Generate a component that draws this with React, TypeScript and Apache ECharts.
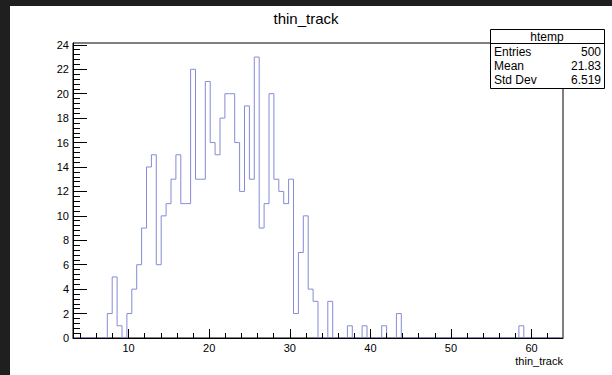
import React, { useEffect, useRef } from "react";
import * as echarts from "echarts";

const chartTitle = "thin_track";
const axisTitle = "thin_track";
const xMin = 3.1;
const xMax = 63.9;
const yMax = 24.15;
const counts = [
  0, 0, 0, 0, 0, 0, 0, 2, 5, 1,
  0, 2, 4, 6, 9, 14, 15, 6, 10, 11,
  13, 15, 11, 11, 22, 13, 13, 21, 16, 15,
  18, 20, 20, 16, 12, 19, 13, 23, 9, 11,
  20, 13, 12, 11, 13, 2, 7, 10, 4, 3,
  0, 0, 3, 0, 0, 0, 1, 0, 0, 1,
  0, 0, 0, 1, 0, 0, 2, 0, 0, 0,
  0, 0, 0, 0, 0, 0, 0, 0, 0, 0,
  0, 0, 0, 0, 0, 0, 0, 0, 0, 0,
  0, 1, 0, 0, 0, 0, 0, 0, 0, 0,
];
const xMajorTicks = [10, 20, 30, 40, 50, 60];
const yMajorTicks = [0, 2, 4, 6, 8, 10, 12, 14, 16, 18, 20, 22, 24];
const statsName = "htemp";
const statsLabels = ["Entries", "Mean", "Std Dev"];
const statsValues = ["500", "21.83", "6.519"];

const FONT = "'Liberation Sans', Arial, Helvetica, sans-serif";

export default function App() {
  const ref = useRef<HTMLDivElement>(null);
  useEffect(() => {
    const chart = echarts.init(ref.current!, null, { renderer: "svg" });
    const nBins = counts.length;
    const bw = (xMax - xMin) / nBins;
    const pts: number[][] = [];
    counts.forEach((c, k) => {
      pts.push([xMin + k * bw, c]);
      pts.push([xMin + (k + 1) * bw, c]);
    });
    const xMinor: number[] = [];
    for (let v = 4; v < xMax; v += 2) if (v % 10 !== 0) xMinor.push(v);
    const yMinor: number[] = [];
    for (let i = 1; i * 0.4 < yMax; i++) if (i % 5 !== 0) yMinor.push(+(i * 0.4).toFixed(2));

    const boxX = 490, boxY = 29, boxW = 114, rowH = 14;
    const statsGraphics: any[] = [
      { type: "rect", shape: { x: boxX + 0.5, y: boxY + 0.5, width: boxW, height: 14 + rowH * 3 + 3 }, style: { fill: "#fff", stroke: "#000", lineWidth: 1 } },
      { type: "line", shape: { x1: boxX + 0.5, y1: boxY + 14.5, x2: boxX + boxW + 0.5, y2: boxY + 14.5 }, style: { stroke: "#000", lineWidth: 1 } },
      { type: "text", x: boxX + boxW / 2, y: boxY + 7.5, style: { text: statsName, align: "center", verticalAlign: "middle", font: `12px ${FONT}`, fill: "#000" } },
    ];
    statsLabels.forEach((lab, i) => {
      const cy = boxY + 22.5 + i * rowH;
      statsGraphics.push({ type: "text", x: boxX + 4, y: cy, style: { text: lab, align: "left", verticalAlign: "middle", font: `12px ${FONT}`, fill: "#000" } });
      statsGraphics.push({ type: "text", x: boxX + boxW - 3, y: cy, style: { text: statsValues[i], align: "right", verticalAlign: "middle", font: `12px ${FONT}`, fill: "#000" } });
    });

    chart.setOption({
      animation: false,
      backgroundColor: "#fff",
      grid: { left: 73, top: 43, width: 490, height: 295, show: true, borderColor: "#000", borderWidth: 1, backgroundColor: "transparent" },
      xAxis: [
        {
          type: "value", min: xMin, max: xMax, z: 5,
          axisLine: { show: true, onZero: false, lineStyle: { color: "#000", width: 1 } },
          axisTick: { show: true, inside: true, length: 9, customValues: xMajorTicks, lineStyle: { color: "#000", width: 1 } },
          axisLabel: { show: true, customValues: xMajorTicks, margin: 4, color: "#000", fontSize: 11, fontFamily: FONT },
          splitLine: { show: false },
        },
        {
          type: "value", min: xMin, max: xMax, position: "bottom", z: 5,
          axisLine: { show: false },
          axisTick: { show: true, inside: true, length: 5, customValues: xMinor, lineStyle: { color: "#000", width: 1 } },
          axisLabel: { show: false },
          splitLine: { show: false },
        },
      ],
      yAxis: [
        {
          type: "value", min: 0, max: yMax, z: 5,
          axisLine: { show: true, onZero: false, lineStyle: { color: "#000", width: 1 } },
          axisTick: { show: true, inside: true, length: 14, customValues: yMajorTicks, lineStyle: { color: "#000", width: 1 } },
          axisLabel: { show: true, customValues: yMajorTicks, margin: 4, color: "#000", fontSize: 11, fontFamily: FONT },
          splitLine: { show: false },
        },
        {
          type: "value", min: 0, max: yMax, position: "left", z: 5,
          axisLine: { show: false },
          axisTick: { show: true, inside: true, length: 7, customValues: yMinor, lineStyle: { color: "#000", width: 1 } },
          axisLabel: { show: false },
          splitLine: { show: false },
        },
      ],
      series: [
        {
          type: "line", xAxisIndex: 0, yAxisIndex: 0, data: pts, symbol: "none", z: 2,
          lineStyle: { color: "#858bd6", width: 1 }, clip: true,
        },
      ],
      graphic: [
        { type: "rect", z: 20, shape: { x: 0, y: 0, width: 612, height: 6 }, style: { fill: "#1f1f1f" } },
        { type: "rect", z: 20, shape: { x: 0, y: 0, width: 10, height: 375 }, style: { fill: "#1f1f1f" } },
        { type: "text", z: 20, x: 306, y: 18, style: { text: chartTitle, align: "center", verticalAlign: "middle", font: `15px ${FONT}`, fill: "#000" } },
        { type: "text", z: 20, x: 563, y: 361, style: { text: axisTitle, align: "right", verticalAlign: "middle", font: `11px ${FONT}`, fill: "#000" } },
        { type: "group", z: 20, children: statsGraphics },
      ],
    });
    return () => chart.dispose();
  }, []);
  return <div ref={ref} style={{ position: "fixed", left: 0, top: 0, width: 612, height: 375 }} />;
}
